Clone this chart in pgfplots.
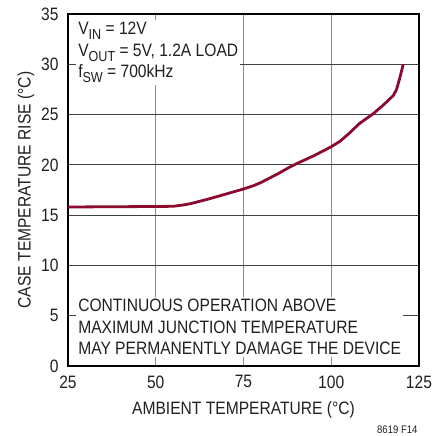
\documentclass[border=0pt]{standalone}
\usepackage{fontspec}
\setmainfont{Liberation Sans}[FakeStretch=0.87]
\usepackage{pgfplots}
\pgfplotsset{compat=1.18}
\usetikzlibrary{calc}
\definecolor{curve}{HTML}{8C0A30}
\definecolor{txt}{HTML}{231F20}
\newcommand{\sub}[1]{\raisebox{-0.28em}{\fontsize{14.5}{15}\selectfont #1}}

\begin{document}
\begin{tikzpicture}
\begin{axis}[
    name=ax,
    scale only axis,
    width=351bp, height=352bp,
    xmin=25, xmax=125, ymin=0, ymax=35,
    xtick={25,50,75,100,125},
    ytick={0,5,10,15,20,25,30,35},
    major tick length=0pt,
    grid=major,
    major x grid style={black!45, line width=0.9bp},
    major y grid style={black!75, line width=0.9bp},
    axis line style={black, line width=1.4bp},
    /pgf/number format/assume math mode=true,
    tick label style={font=\fontsize{18}{20}\selectfont, text=txt},
    xticklabel style={yshift=-6bp},
    yticklabel style={xshift=-6bp},
    label style={font=\fontsize{18}{20}\selectfont, text=txt},
    xlabel={AMBIENT TEMPERATURE (°C)},
    ylabel={CASE TEMPERATURE RISE (°C)},
    xlabel style={yshift=-6bp},
]
\addplot[curve, line width=2.8bp, line join=round] coordinates {
(25,15.80) (30,15.82) (40,15.84) (50,15.86) (55,15.88) (58,16.02)
(60,16.15) (65,16.60) (70,17.10) (75,17.60) (78,17.95) (80,18.25)
(82.5,18.70) (85,19.15) (87.5,19.65) (90,20.10) (95,20.90) (100,21.80)
(102.5,22.35) (105,23.10) (108,24.10) (112,25.10) (115,26.00)
(117.7,26.90) (118.6,27.50) (119.5,28.60) (120.5,30.00)
};
\node[anchor=north west, align=left, fill=white, inner sep=2bp, text=txt,
      font=\fontsize{18}{21.5}\selectfont]
  at (axis cs:27.3,34.4)
  {V\sub{IN} = 12V\\
   V\sub{OUT} = 5V, 1.2A LOAD\\
   f\sub{SW} = 700kHz};
\node[anchor=south west, align=left, fill=white, inner sep=2bp, text=txt,
      font=\fontsize{18}{21.5}\selectfont]
  at (axis cs:27.3,0.9)
  {CONTINUOUS OPERATION ABOVE\\
   MAXIMUM JUNCTION TEMPERATURE\\
   MAY PERMANENTLY DAMAGE THE DEVICE};
\end{axis}
\node[anchor=base east, text=txt, font=\fontsize{11}{13}\selectfont]
  at ($(ax.south east)+(2bp,-67bp)$) {8619 F14};
\pgfresetboundingbox
\path ($(ax.south west)+(-68bp,-70bp)$) rectangle ($(ax.north east)+(16bp,14bp)$);
\end{tikzpicture}
\end{document}
